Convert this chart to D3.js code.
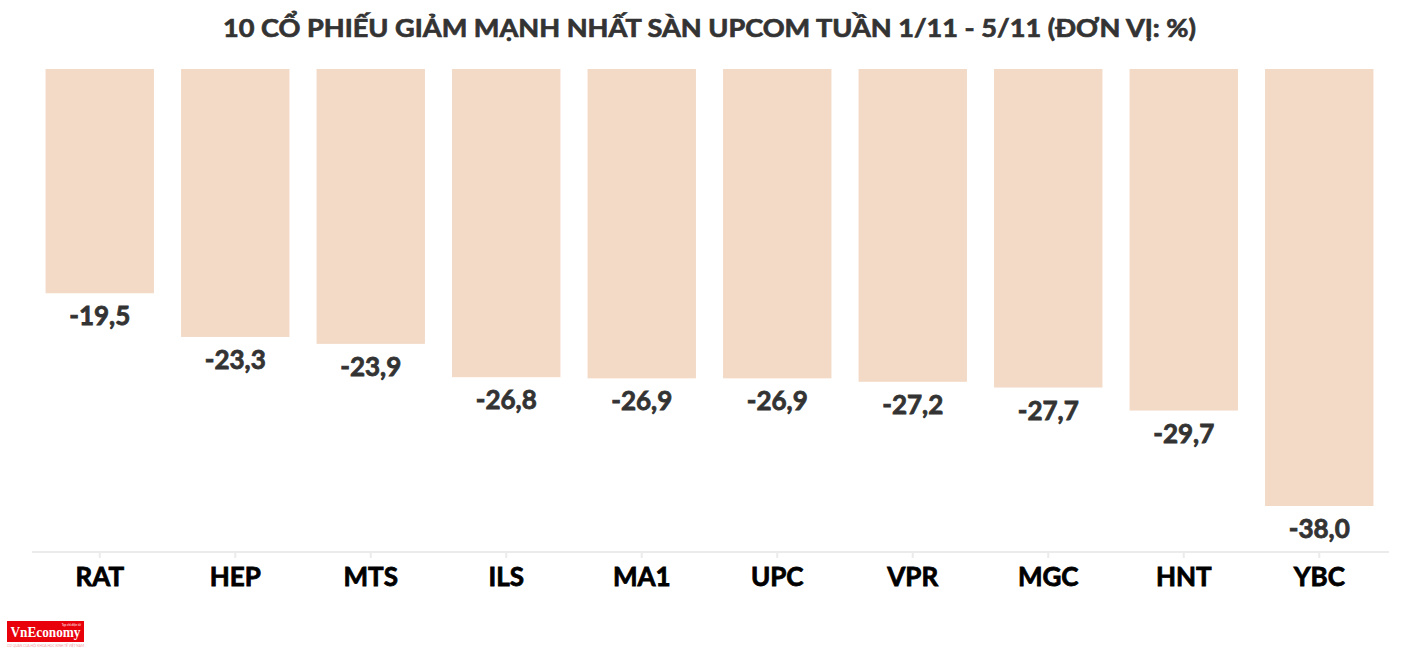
<!DOCTYPE html>
<html>
<head>
<meta charset="utf-8">
<script src="https://cdn.jsdelivr.net/npm/d3@7"></script>
<style>
  body { margin: 0; background: #fff; }
  svg { display: block; font-family: "Lato", "Open Sans", sans-serif; }
</style>
</head>
<body>
<div id="chart"></div>
<script>
// data
const tickers = ["RAT", "HEP", "MTS", "ILS", "MA1", "UPC", "VPR", "MGC", "HNT", "YBC"];
const changes = [-19.5, -23.3, -23.9, -26.8, -26.9, -26.9, -27.2, -27.7, -29.7, -38.0];
const title = "10 CỔ PHIẾU GIẢM MẠNH NHẤT SÀN UPCOM TUẦN 1/11 - 5/11 (ĐƠN VỊ: %)";

const width = 1419, height = 661;
const margin = { top: 69, left: 32, right: 32, bottom: 109 };

const svg = d3.select("#chart")
    .append("svg")
    .attr("width", width)
    .attr("height", height);

// title (thin stroke to get closer to the heavy original face)
svg.append("text")
    .attr("x", width / 2)
    .attr("y", 37)
    .attr("text-anchor", "middle")
    .attr("fill", "#333")
    .attr("stroke", "#333")
    .attr("stroke-width", 0.7)
    .attr("font-size", 25)
    .attr("font-weight", 700)
    .attr("textLength", 973)
    .attr("lengthAdjust", "spacingAndGlyphs")
    .text(title);

const x = d3.scaleBand()
    .domain(tickers)
    .range([margin.left, 1387])
    .paddingInner(0.2)
    .paddingOuter(0.1);

const y = d3.scaleLinear()
    .domain([0, -42])
    .range([margin.top, height - margin.bottom]);

const rows = tickers.map((t, i) => ({ name: t, value: changes[i] }));

// bars hang down from zero
svg.append("g")
    .selectAll("rect")
    .data(rows)
    .join("rect")
    .attr("x", d => x(d.name))
    .attr("y", y(0))
    .attr("width", x.bandwidth())
    .attr("height", d => y(d.value) - y(0))
    .attr("fill", "#f3dac7");

// value labels
const fmt = v => v.toFixed(1).replace(".", ",");
svg.append("g")
    .selectAll("text")
    .data(rows)
    .join("text")
    .attr("x", d => x(d.name) + x.bandwidth() / 2)
    .attr("y", d => y(d.value) + 32)
    .attr("text-anchor", "middle")
    .attr("fill", "#333")
    .attr("stroke", "#333")
    .attr("stroke-width", 0.8)
    .attr("font-size", 26)
    .attr("font-weight", 700)
    .text(d => fmt(d.value));

// x axis
const axisY = height - margin.bottom;
const xAxis = svg.append("g")
    .attr("transform", `translate(0,${axisY})`)
    .call(d3.axisBottom(x).tickSize(6).tickSizeOuter(0).tickPadding(8));
xAxis.select(".domain")
    .attr("d", `M${margin.left},0H1389`)
    .attr("stroke", "#ebebeb")
    .attr("stroke-width", 2);
xAxis.selectAll(".tick line")
    .attr("stroke", "#ebebeb")
    .attr("stroke-width", 2);
xAxis.selectAll(".tick text")
    .attr("fill", "#000")
    .attr("stroke", "#000")
    .attr("stroke-width", 0.8)
    .attr("font-size", 26)
    .attr("font-weight", 700)
    .attr("font-family", "Lato, sans-serif")
    .attr("dy", "0.75em");

// VnEconomy logo
const logo = svg.append("g").attr("transform", "translate(7,621)");
logo.append("rect")
    .attr("width", 77)
    .attr("height", 21)
    .attr("fill", "#e8000b");
logo.append("text")
    .attr("x", 38.5)
    .attr("y", 16)
    .attr("text-anchor", "middle")
    .attr("fill", "#fff")
    .attr("font-family", "Liberation Serif, serif")
    .attr("font-weight", 700)
    .attr("font-size", 14)
    .attr("textLength", 70)
    .attr("lengthAdjust", "spacingAndGlyphs")
    .text("VnEconomy");
logo.append("text")
    .attr("x", 74)
    .attr("y", 4.5)
    .attr("text-anchor", "end")
    .attr("fill", "#fff")
    .attr("font-size", 3)
    .text("Tạp chí điện tử");
logo.append("text")
    .attr("x", 0)
    .attr("y", 26)
    .attr("fill", "#f29a9a")
    .attr("font-size", 3.5)
    .attr("textLength", 77)
    .attr("lengthAdjust", "spacingAndGlyphs")
    .text("CƠ QUAN CỦA HỘI KHOA HỌC KINH TẾ VIỆT NAM");
</script>
</body>
</html>
